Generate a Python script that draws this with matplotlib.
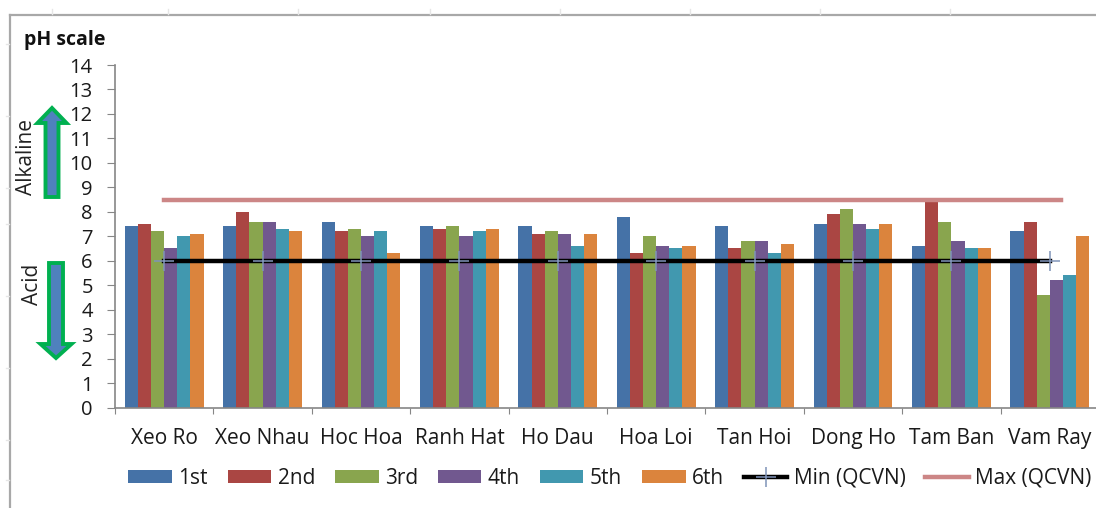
import matplotlib
matplotlib.use('agg')
import matplotlib.pyplot as plt
from matplotlib.lines import Line2D
from matplotlib.patches import FancyArrow
from matplotlib.transforms import IdentityTransform
import numpy as np

plt.rcParams['font.family'] = ['Open Sans', 'DejaVu Sans']

sites = ['Xeo Ro', 'Xeo Nhau', 'Hoc Hoa', 'Ranh Hat', 'Ho Dau',
         'Hoa Loi', 'Tan Hoi', 'Dong Ho', 'Tam Ban', 'Vam Ray']
first = [7.4, 7.4, 7.6, 7.4, 7.4, 7.8, 7.4, 7.5, 6.6, 7.2]
second = [7.5, 8.0, 7.2, 7.3, 7.1, 6.3, 6.5, 7.9, 8.4, 7.6]
third = [7.2, 7.6, 7.3, 7.4, 7.2, 7.0, 6.8, 8.1, 7.6, 4.6]
fourth = [6.5, 7.6, 7.0, 7.0, 7.1, 6.6, 6.8, 7.5, 6.8, 5.2]
fifth = [7.0, 7.3, 7.2, 7.2, 6.6, 6.5, 6.3, 7.3, 6.5, 5.4]
sixth = [7.1, 7.2, 6.3, 7.3, 7.1, 6.6, 6.7, 7.5, 6.5, 7.0]
qcvn_min = [6] * 10
qcvn_max = [8.5] * 10

series = [first, second, third, fourth, fifth, sixth]
names = ['1st', '2nd', '3rd', '4th', '5th', '6th']
colors = ['#4572A7', '#AA4643', '#89A54E', '#71588F', '#4198AF', '#DB843D']

W, H = 1096, 508
fig = plt.figure(figsize=(W / 100, H / 100), dpi=100)
# axes run a little past the right edge of the picture, as in the screenshot
ax = fig.add_axes([115 / W, 1 - 407.5 / H, 984 / W, 342.5 / H])

x = np.arange(len(sites))
bar_w = 0.8 / 6
handles = []
for i, vals in enumerate(series):
    b = ax.bar(x + (i - 2.5) * bar_w, vals, bar_w, color=colors[i], label=names[i], zorder=2)
    handles.append(b)
line_min, = ax.plot(x, qcvn_min, color='black', lw=3.2, marker='+', ms=14, mew=1.1,
                    mec='#7f93b8', zorder=3, label='Min (QCVN)')
# the max line overshoots the last category centre a bit in the original
max_x = x.astype(float)
max_x[-1] += 0.11
line_max, = ax.plot(max_x, qcvn_max, color='#CC8686', lw=3.2, zorder=3, label='Max (QCVN)')

ax.set_xlim(-0.5, 9.5)
ax.set_ylim(0, 14)
ax.set_yticks(range(15))
ax.set_xticks(x - 0.5, minor=False)
ax.set_xticklabels([])
ax.set_xticks(x, minor=True)
ax.set_xticklabels(sites, minor=True, fontsize=15, color='#1a1a1a')
ax.tick_params(axis='x', which='minor', length=0, pad=15)
ax.tick_params(axis='x', which='major', length=4.5, color='#868686')
ax.tick_params(axis='y', length=6, color='#868686', labelsize=14.5, pad=10, labelcolor='#1a1a1a')
for s in ['top', 'right']:
    ax.spines[s].set_visible(False)
for s in ['left', 'bottom']:
    ax.spines[s].set_color('#868686')
    ax.spines[s].set_linewidth(1.2)

fig.text(24 / W, 1 - 40 / H, 'pH scale', fontsize=14, fontweight='bold', va='center', color='#111111')
fig.text(27 / W, 1 - 157 / H, 'Alkaline', fontsize=15, rotation=90, ha='center', va='center', color='#222222')
fig.text(32 / W, 1 - 284 / H, 'Acid', fontsize=15, rotation=90, ha='center', va='center', color='#222222')


def block_arrow(cx, tail, tip, shaft, head, head_len):
    # pixel positions from the top left corner of the picture
    fig.add_artist(FancyArrow(cx, H - tail, 0, tail - tip, width=shaft, head_width=head,
                              head_length=head_len, length_includes_head=True,
                              facecolor='#4F81BD', edgecolor='#00B050', lw=2.8,
                              transform=IdentityTransform()))


block_arrow(52, 197, 108, 13, 29, 15)
block_arrow(56, 263, 358, 14, 31, 14)

leg = fig.legend(handles=handles + [line_min, line_max], loc='center', ncol=8,
                 bbox_to_anchor=(610 / W, 1 - 478 / H), frameon=False, fontsize=15,
                 handlelength=2.1, handleheight=0.6, handletextpad=0.3,
                 columnspacing=0.95, labelcolor='#1a1a1a')

# grey frame of the pasted chart, with the faint sheet ticks outside it
frame = '#a8a8a8'
fig.add_artist(Line2D([10 / W, 10 / W], [0, 1 - 15 / H], color=frame, lw=1.6))
fig.add_artist(Line2D([10 / W, 1], [1 - 15 / H, 1 - 15 / H], color=frame, lw=1.6))
for px in [52, 168, 298, 430, 560, 690, 820, 950]:
    fig.add_artist(Line2D([px / W, px / W], [1 - 9 / H, 1 - 14 / H], color='#e6e6e6', lw=1))
for py in [44, 116, 188, 224, 296, 368, 440, 480]:
    fig.add_artist(Line2D([6 / W, 9 / W], [1 - py / H, 1 - py / H], color='#e6e6e6', lw=1))

fig.savefig('out.png', dpi=100)
